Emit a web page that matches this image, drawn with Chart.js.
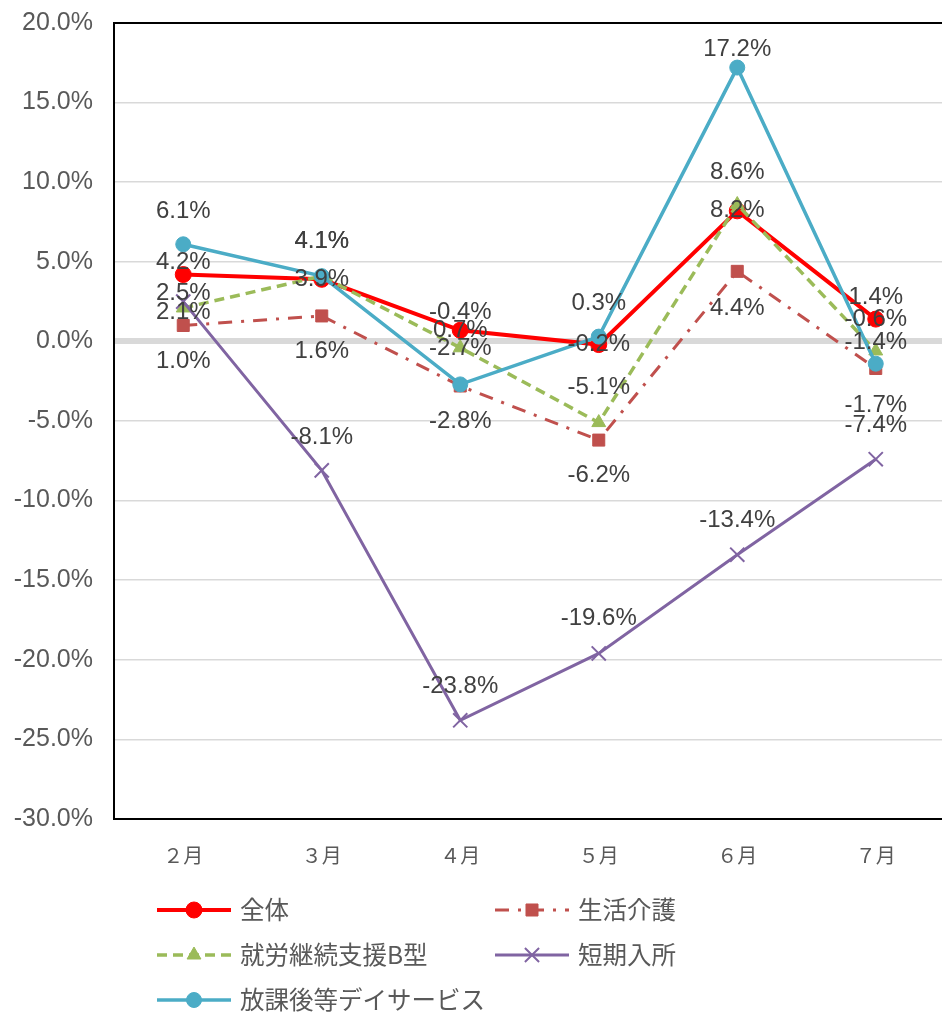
<!DOCTYPE html>
<html>
<head>
<meta charset="utf-8">
<script src="https://cdn.jsdelivr.net/npm/chart.js@4/dist/chart.umd.min.js"></script>
<style>
    html, body { margin: 0; padding: 0; background: #fff; overflow: hidden; }
    #wrap { width: 957px; height: 1013px; position: relative; }
</style>
</head>
<body>
<div id="wrap"><canvas id="line-chart"></canvas></div>
<script>
'use strict';

// data (percent)
const months = ['２月', '３月', '４月', '５月', '６月', '７月'];
const zentai = [4.2, 3.9, 0.7, -0.2, 8.2, 1.4];
const seikatsuKaigo = [1.0, 1.6, -2.8, -6.2, 4.4, -1.7];
const shuroB = [2.1, 4.1, -0.4, -5.1, 8.6, -0.6];
const tankiNyusho = [2.5, -8.1, -23.8, -19.6, -13.4, -7.4];
const houkago = [6.1, 4.1, -2.7, 0.3, 17.2, -1.4];

const NUM_FONT = '"Liberation Sans", "Noto Sans CJK JP", Arial, sans-serif';
const JP_FONT = '"Noto Sans CJK JP", "Liberation Sans", sans-serif';

// label offsets (px, vertical) per series, like the hand-placed Excel labels
const labelDy = [
    [-12, 0, 0, 0, 0, -22],
    [36, 35, 35, 35, 37, 37],
    [4, -35, -35, -35, -32, -32],
    [-8, -33, -34, -35, -34, -34],
    [-33, -35, -36, -33, -18, -21]
];

function series(label, data, color, opts) {
    return Object.assign({
        label: label,
        data: data,
        borderColor: color,
        backgroundColor: color,
        pointBackgroundColor: color,
        pointBorderColor: color,
        pointBorderWidth: 1,
        tension: 0,
        fill: false
    }, opts);
}

const datasets = [
    series('全体', zentai, '#FF0000', { borderWidth: 4, pointStyle: 'circle', pointRadius: 8, order: 4 }),
    series('生活介護', seikatsuKaigo, '#C0504D', { borderWidth: 3, borderDash: [14, 9, 3, 9], pointStyle: 'rect', pointRadius: 8.5, order: 3 }),
    series('就労継続支援B型', shuroB, '#9BBB59', { borderWidth: 3.5, borderDash: [10, 6], pointStyle: 'triangle', pointRadius: 8, order: 2 }),
    series('短期入所', tankiNyusho, '#8064A2', { borderWidth: 3, pointStyle: 'crossRot', pointRadius: 10, pointBorderWidth: 2, order: 1 }),
    series('放課後等デイサービス', houkago, '#4BACC6', { borderWidth: 3.5, pointStyle: 'circle', pointRadius: 7.5, order: 0 })
];

const valueLabels = {
    id: 'valueLabels',
    afterDatasetsDraw(chart) {
        const ctx = chart.ctx;
        ctx.save();
        ctx.font = '24px ' + NUM_FONT;
        ctx.fillStyle = '#404040';
        ctx.textAlign = 'center';
        ctx.textBaseline = 'middle';
        chart.data.datasets.forEach((ds, i) => {
            const meta = chart.getDatasetMeta(i);
            meta.data.forEach((pt, j) => {
                ctx.fillText(ds.data[j].toFixed(1) + '%', pt.x, pt.y + labelDy[i][j]);
            });
        });
        ctx.restore();
    }
};

// top frame line + two-column legend like the original
const frameAndLegend = {
    id: 'frameAndLegend',
    afterDraw(chart) {
        const ctx = chart.ctx;
        const area = chart.chartArea;
        ctx.save();
        ctx.strokeStyle = '#000';
        ctx.lineWidth = 2;
        ctx.beginPath();
        ctx.moveTo(area.left, area.top);
        ctx.lineTo(area.right, area.top);
        ctx.stroke();

        const slots = [
            { x: 157, y: 910 }, { x: 495, y: 910 },
            { x: 157, y: 955 }, { x: 495, y: 955 },
            { x: 157, y: 1000 }
        ];
        chart.data.datasets.forEach((ds, i) => {
            const s = slots[i];
            const lineLen = 74;
            ctx.strokeStyle = ds.borderColor;
            ctx.lineWidth = ds.borderWidth;
            ctx.setLineDash(ds.borderDash || []);
            ctx.beginPath();
            ctx.moveTo(s.x, s.y);
            ctx.lineTo(s.x + lineLen, s.y);
            ctx.stroke();
            ctx.setLineDash([]);
            ctx.fillStyle = ds.borderColor;
            ctx.lineWidth = ds.pointBorderWidth;
            Chart.helpers.drawPoint(ctx, {
                pointStyle: ds.pointStyle,
                radius: ds.pointRadius,
                borderWidth: ds.pointBorderWidth,
                rotation: 0
            }, s.x + lineLen / 2, s.y);
            ctx.fillStyle = '#595959';
            ctx.font = '24.5px ' + JP_FONT;
            ctx.textAlign = 'left';
            ctx.textBaseline = 'middle';
            ctx.fillText(ds.label, s.x + lineLen + 9, s.y);
        });
        ctx.restore();
    }
};

const chart = new Chart(document.getElementById('line-chart').getContext('2d'), {
    type: 'line',
    data: { labels: months, datasets: datasets },
    options: {
        responsive: true,
        maintainAspectRatio: false,
        animation: false,
        layout: { padding: { top: 23, right: 0, bottom: 0, left: 0 } },
        plugins: {
            legend: { display: false },
            tooltip: { enabled: false }
        },
        scales: {
            x: {
                offset: true,
                grid: { display: false },
                border: { color: '#000', width: 2 },
                ticks: { color: '#595959', font: { size: 20, family: JP_FONT }, padding: 16 },
                afterFit: (scale) => { scale.height = 194; }
            },
            y: {
                min: -30,
                max: 20,
                grid: {
                    color: '#d9d9d9',
                    drawTicks: false,
                    lineWidth: (c) => (c.tick && c.tick.value === 0 ? 6 : 1.5)
                },
                border: { color: '#000', width: 2 },
                ticks: {
                    stepSize: 5,
                    color: '#595959',
                    font: { size: 25, family: NUM_FONT },
                    padding: 21,
                    callback: (v) => v.toFixed(1) + '%'
                },
                afterFit: (scale) => {
                    scale.width = 114;
                    scale.paddingTop = 0;
                    scale.paddingBottom = 0;
                }
            }
        }
    },
    plugins: [valueLabels, frameAndLegend]
});
</script>
</body>
</html>
